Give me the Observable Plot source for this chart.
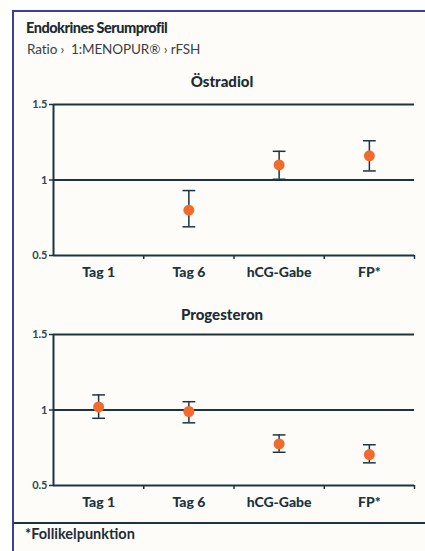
<!DOCTYPE html>
<html>
<head>
<meta charset="utf-8">
<script src="https://cdn.jsdelivr.net/npm/d3@7"></script>
<script src="https://cdn.jsdelivr.net/npm/@observablehq/plot@0.6"></script>
<style>
  body { margin: 0; background: #ffffff; font-family: Lato, "Open Sans", sans-serif; color: #1c2c36; }
  #frame { position: absolute; left: 12px; top: 10px; width: 430px; height: 560px;
           border-left: 2px solid #3c3f9c; border-top: 2px solid #3c3f9c; background: #fefcf8; }
  .t { position: absolute; white-space: nowrap; }
  .plotbox { position: absolute; left: 0; }
  .sep { position: absolute; left: 14px; width: 411px; top: 522px; height: 2px; background: #1d3440; }
  .ytick text { font-size: 11px; font-weight: 700; }
</style>
</head>
<body>
<div id="frame"></div>
<div class="t" style="left:26px;top:19px;font-size:14.5px;font-weight:900;letter-spacing:-0.5px;">Endokrines Serumprofil</div>
<div class="t" style="left:27px;top:41px;font-size:13.5px;color:#3a3f44;letter-spacing:-0.1px;">Ratio ›&nbsp; 1:MENOPUR® › rFSH</div>
<div class="t" id="title1" style="left:2px;width:440px;text-align:center;top:72px;font-size:15px;font-weight:900;">Östradiol</div>
<div class="plotbox" id="p1" style="top:94px;"></div>
<div class="t" id="title2" style="left:2px;width:440px;text-align:center;top:305px;font-size:15px;font-weight:900;">Progesteron</div>
<div class="plotbox" id="p2" style="top:324px;"></div>
<div class="sep"></div>
<div class="t" style="left:25px;top:525px;font-size:14.5px;font-weight:700;">*Follikelpunktion</div>
<script>
// Data
const categories = ["Tag 1", "Tag 6", "hCG-Gabe", "FP*"];
const estradiolMean = [null, 0.80, 1.10, 1.16];
const estradiolLow  = [null, 0.69, 1.005, 1.06];
const estradiolHigh = [null, 0.93, 1.19, 1.26];
const progesteronMean = [1.02, 0.99, 0.775, 0.705];
const progesteronLow  = [0.945, 0.915, 0.72, 0.65];
const progesteronHigh = [1.10, 1.055, 0.835, 0.77];
const yTicks = [0.5, 1, 1.5];
const yTickLabels = ["0.5", "1", "1.5"];

const dark = "#1d3440";
const orange = "#f26a2c";

const capSymbol = {
  draw(ctx, size) {
    const w = Math.sqrt(size) * 0.9;
    ctx.moveTo(-w, 0);
    ctx.lineTo(w, 0);
  }
};

function build(mean, low, high, height) {
  const data = categories.map((c, i) => ({
    x: i + 0.5, mean: mean[i], lo: low[i], hi: high[i]
  })).filter(d => d.mean != null);
  const boundaries = categories.map((c, i) => i + 1);
  const centers = categories.map((c, i) => i + 0.5);
  return Plot.plot({
    width: 425,
    height: height,
    marginLeft: 53,
    marginRight: 11,
    marginTop: 10,
    marginBottom: height - 10 - 151,
    style: { background: "transparent", color: dark, fontFamily: "Lato, 'Open Sans', sans-serif" },
    x: { domain: [0, categories.length], axis: null },
    y: { domain: [0.5, 1.5], axis: null },
    marks: [
      Plot.axisY({ ticks: yTicks, tickSize: 4, tickPadding: 2, stroke: dark, strokeWidth: 1.5, label: null,
                   tickFormat: (d) => yTickLabels[yTicks.indexOf(d)], fontSize: 11, fontWeight: "bold", fill: "#33454e" }),
      Plot.axisX({ ticks: boundaries, tickSize: 4, stroke: dark, strokeWidth: 1.5, label: null, tickFormat: () => "" }),
      Plot.axisX({ ticks: centers, tickSize: 0, tickPadding: 12, fontSize: 14, fontWeight: 900, fill: dark, label: null,
                   tickFormat: (d) => categories[Math.floor(d)] }),
      Plot.ruleY(yTicks, { stroke: dark, strokeWidth: 2 }),
      Plot.ruleX([0], { y1: 0.5, y2: 1.5, stroke: dark, strokeWidth: 2 }),
      Plot.ruleX(data, { x: "x", y1: "lo", y2: "hi", stroke: dark, strokeWidth: 1.5 }),
      Plot.dot(data, { x: "x", y: "lo", symbol: capSymbol, r: 4, stroke: dark, strokeWidth: 1.5, fill: "none" }),
      Plot.dot(data, { x: "x", y: "hi", symbol: capSymbol, r: 4, stroke: dark, strokeWidth: 1.5, fill: "none" }),
      Plot.dot(data, { x: "x", y: "mean", r: 5.5, fill: orange, stroke: "none" })
    ]
  });
}

document.getElementById("p1").appendChild(build(estradiolMean, estradiolLow, estradiolHigh, 191));
document.getElementById("p2").appendChild(build(progesteronMean, progesteronLow, progesteronHigh, 190));
</script>
</body>
</html>
